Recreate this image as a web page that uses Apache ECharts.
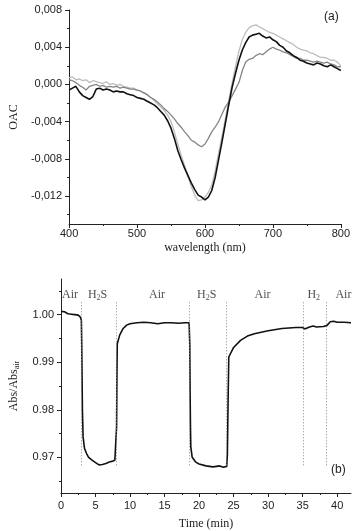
<!DOCTYPE html>
<html>
<head>
<meta charset="utf-8">
<script src="https://cdn.jsdelivr.net/npm/echarts@6/dist/echarts.min.js"></script>
<style>
  html, body { margin: 0; padding: 0; background: #fff; }
  #chart { width: 353px; height: 531px; }
</style>
</head>
<body>
<div id="chart"></div>
<script>
// panel (a): optical absorbance change spectra
const wavelengths = [
  400, 405, 410, 415, 420, 425, 430, 435, 440, 445, 450, 455, 460, 465, 470, 475, 480, 485, 490, 495,
  500, 505, 510, 515, 520, 525, 530, 535, 540, 545, 550, 555, 560, 565, 570, 575, 580, 585, 590, 595,
  600, 605, 610, 615, 620, 625, 630, 635, 640, 645, 650, 655, 660, 665, 670, 675, 680, 685, 690, 695,
  700, 705, 710, 715, 720, 725, 730, 735, 740, 745, 750, 755, 760, 765, 770, 775, 780, 785, 790, 795, 800
];
const oacBlack = [
  -0.0006, -0.0004, -0.0002, -0.0008, -0.0012, -0.0014, -0.0016, -0.0013, -0.0005, -0.0004,
  -0.0006, -0.0005, -0.0006, -0.0008, -0.0007, -0.0008, -0.0008, -0.0010, -0.0011, -0.0012,
  -0.0014, -0.0015, -0.0016, -0.0018, -0.0020, -0.0022, -0.0025, -0.0029, -0.0033, -0.0039,
  -0.0047, -0.0058, -0.0071, -0.0081, -0.0090, -0.0098, -0.0106, -0.0113, -0.0119, -0.0121,
  -0.0124, -0.0121, -0.0114, -0.0100, -0.0081, -0.0062, -0.0042, -0.0022, -0.0003, 0.0012,
  0.0026, 0.0037, 0.0045, 0.0051, 0.0053, 0.0054, 0.0055, 0.0052, 0.0050, 0.0051,
  0.0048, 0.0046, 0.0042, 0.0040, 0.0036, 0.0034, 0.0031, 0.0029, 0.0026, 0.0025,
  0.0023, 0.0022, 0.0021, 0.0023, 0.0022, 0.0020, 0.0019, 0.0021, 0.0019, 0.0017, 0.0015
];
const oacLight = [
  0.0007, 0.0008, 0.0005, 0.0006, 0.0004, 0.0005, 0.0002, 0.0004, 0.0003, 0.0002,
  0.0001, 0.0003, 0.0000, 0.0001, -0.0001, 0.0000, -0.0002, -0.0003, -0.0004, -0.0004,
  -0.0006, -0.0007, -0.0009, -0.0011, -0.0014, -0.0017, -0.0021, -0.0024, -0.0028, -0.0033,
  -0.0040, -0.0051, -0.0064, -0.0076, -0.0087, -0.0099, -0.0110, -0.0119, -0.0125, -0.0124,
  -0.0121, -0.0116, -0.0108, -0.0093, -0.0074, -0.0056, -0.0037, -0.0017, 0.0002, 0.0019,
  0.0036, 0.0048, 0.0056, 0.0061, 0.0063, 0.0064, 0.0062, 0.0060, 0.0058, 0.0056,
  0.0055, 0.0053, 0.0051, 0.0049, 0.0047, 0.0045, 0.0043, 0.0040, 0.0038, 0.0037,
  0.0036, 0.0034, 0.0033, 0.0031, 0.0029, 0.0029, 0.0028, 0.0026, 0.0026, 0.0024, 0.0020
];
const oacGray = [
  0.0005, 0.0004, 0.0002, -0.0001, -0.0003, -0.0006, -0.0002, -0.0001, 0.0000, -0.0002,
  -0.0001, -0.0003, -0.0002, -0.0003, -0.0002, -0.0004, -0.0003, -0.0004, -0.0005, -0.0005,
  -0.0006, -0.0007, -0.0009, -0.0011, -0.0014, -0.0016, -0.0019, -0.0022, -0.0026, -0.0029,
  -0.0033, -0.0037, -0.0042, -0.0046, -0.0051, -0.0055, -0.0060, -0.0062, -0.0065, -0.0067,
  -0.0064, -0.0058, -0.0051, -0.0046, -0.0040, -0.0032, -0.0024, -0.0019, -0.0012, -0.0005,
  0.0002, 0.0015, 0.0024, 0.0027, 0.0028, 0.0031, 0.0033, 0.0032, 0.0035, 0.0038,
  0.0040, 0.0038, 0.0037, 0.0035, 0.0034, 0.0032, 0.0030, 0.0028, 0.0028, 0.0026,
  0.0026, 0.0025, 0.0024, 0.0025, 0.0024, 0.0023, 0.0024, 0.0022, 0.0021, 0.0019, 0.0019
];
const oacTicks = [-0.012, -0.008, -0.004, 0, 0.004, 0.008];
const oacMinorTicks = [-0.014, -0.010, -0.006, -0.002, 0.002, 0.006];
const wlTicks = [400, 500, 600, 700, 800];
const wlMinorTicks = [450, 550, 650, 750];

// panel (b): response to gas switching
const times = [
  0, 0.5, 1, 1.5, 2, 2.5, 2.8, 2.95, 3.0, 3.05, 3.1, 3.2, 3.4, 3.7, 4, 4.5, 5, 5.5, 6, 6.5, 7, 7.5, 7.8, 8.0,
  8.05, 8.1, 8.15, 8.2, 8.5, 9, 9.5, 10, 11, 12, 13, 14, 15, 16, 17, 18, 18.55, 18.65, 18.7, 18.75, 18.8,
  19.0, 19.5, 20, 21, 22, 23, 23.5, 24, 24.1, 24.2, 24.3, 24.5, 25, 26, 27, 28, 30, 32, 34, 35, 35.3,
  36, 36.5, 37, 38, 38.5, 39, 39.5, 40, 41, 42
];
const absRatio = [
  1.0007, 1.0006, 1.0002, 1.0001, 1.0000, 0.9999, 0.9995, 0.9988, 0.9940, 0.9870, 0.9800, 0.9743,
  0.9719, 0.9708, 0.9700, 0.9694, 0.9689, 0.9684, 0.9685, 0.9687, 0.9690, 0.9692, 0.9694, 0.9698,
  0.9764, 0.9870, 0.9939, 0.9943, 0.9957, 0.9971, 0.9978, 0.9981, 0.9983, 0.9984, 0.9983, 0.9981,
  0.9983, 0.9983, 0.9982, 0.9983, 0.9983, 0.9939, 0.9834, 0.9764, 0.9722,
  0.9700, 0.9690, 0.9686, 0.9682, 0.9680, 0.9682, 0.9679, 0.9681, 0.9708, 0.9820, 0.9911,
  0.9915, 0.9931, 0.9946, 0.9955, 0.9960, 0.9966, 0.9971, 0.9973, 0.9973, 0.9970,
  0.9974, 0.9976, 0.9974, 0.9975, 0.9977, 0.9985, 0.9986, 0.9984, 0.9984, 0.9983
];
const switchTimes = [2.9, 7.95, 18.6, 23.9, 35.1, 38.35];
const gasNames = ['Air', 'H{s|2}S', 'Air', 'H{s|2}S', 'Air', 'H{s|2}', 'Air'];
const gasTimes = [1.3, 5.3, 13.9, 21.1, 29.2, 36.6, 40.9];
const absTicks = [0.97, 0.98, 0.99, 1.00];
const absMinorTicks = [0.965, 0.975, 0.985, 0.995, 1.005];
const timeTicks = [0, 5, 10, 15, 20, 25, 30, 35, 40];
const timeMinorTicks = [2.5, 7.5, 12.5, 17.5, 22.5, 27.5, 32.5, 37.5];

const sans = 'Liberation Sans';
const serif = 'Liberation Serif';
const ink = '#222';

function mainAxis(extra) {
  return Object.assign({
    type: 'value',
    axisLine: { show: true, onZero: false, lineStyle: { color: ink, width: 1 } },
    axisTick: { show: true, inside: false, length: 4, lineStyle: { color: ink } },
    axisLabel: { color: ink, fontFamily: sans, fontSize: 11 },
    splitLine: { show: false },
    nameTextStyle: { color: ink, fontFamily: serif, fontSize: 12 }
  }, extra);
}
function minorAxis(extra, ticks) {
  return Object.assign({
    type: 'value',
    axisLine: { show: false, onZero: false },
    axisTick: { show: true, inside: false, length: 2, customValues: ticks, lineStyle: { color: ink } },
    axisLabel: { show: false },
    splitLine: { show: false }
  }, extra);
}

const chart = echarts.init(document.getElementById('chart'), null, { renderer: 'canvas' });

chart.setOption({
  backgroundColor: '#fff',
  animation: false,
  grid: [
    { left: 59, top: 10, width: 289, height: 214 },
    { left: 58, top: 279, width: 293, height: 215 }
  ],
  xAxis: [
    mainAxis({
      gridIndex: 0, position: 'bottom', min: 400, max: 800,
      axisTick: { show: true, inside: false, length: 4, customValues: wlTicks, lineStyle: { color: ink } },
      axisLabel: { color: ink, fontFamily: sans, fontSize: 11, margin: 4, customValues: wlTicks },
      name: 'wavelength (nm)', nameLocation: 'middle', nameGap: 18
    }),
    minorAxis({ gridIndex: 0, position: 'bottom', min: 400, max: 800 }, wlMinorTicks),
    mainAxis({
      gridIndex: 1, position: 'bottom', min: 0, max: 42,
      axisTick: { show: true, inside: false, length: 4, customValues: timeTicks, lineStyle: { color: ink } },
      axisLabel: { color: ink, fontFamily: sans, fontSize: 11, margin: 7, customValues: timeTicks },
      name: 'Time (min)', nameLocation: 'middle', nameGap: 25
    }),
    minorAxis({ gridIndex: 1, position: 'bottom', min: 0, max: 42 }, timeMinorTicks)
  ],
  yAxis: [
    mainAxis({
      gridIndex: 0, position: 'left', min: -0.015, max: 0.008,
      axisTick: { show: true, inside: false, length: 4, customValues: oacTicks, lineStyle: { color: ink } },
      axisLabel: {
        color: ink, fontFamily: sans, fontSize: 11, margin: 7, customValues: oacTicks,
        formatter: v => v.toFixed(3).replace('.', ',')
      },
      name: 'OAC', nameLocation: 'middle', nameRotate: 90, nameGap: 49
    }),
    minorAxis({ gridIndex: 0, position: 'left', min: -0.015, max: 0.008 }, oacMinorTicks),
    mainAxis({
      gridIndex: 1, position: 'left', min: 0.9625, max: 1.0075,
      axisTick: { show: true, inside: false, length: 4, customValues: absTicks, lineStyle: { color: ink } },
      axisLabel: {
        color: ink, fontFamily: sans, fontSize: 11, margin: 7, customValues: absTicks,
        formatter: v => v.toFixed(2)
      },
      name: 'Abs/Abs{s|air}', nameLocation: 'middle', nameRotate: 90, nameGap: 40,
      nameTextStyle: {
        color: ink, fontFamily: serif, fontSize: 12,
        rich: { s: { fontFamily: serif, fontSize: 8, color: ink, padding: [6, 0, 0, 0] } }
      }
    }),
    minorAxis({ gridIndex: 1, position: 'left', min: 0.9625, max: 1.0075 }, absMinorTicks)
  ],
  series: [
    {
      type: 'line', xAxisIndex: 0, yAxisIndex: 0, showSymbol: false, silent: true,
      data: wavelengths.map((w, i) => [w, oacLight[i]]),
      lineStyle: { color: '#bdbdbd', width: 1.3 }
    },
    {
      type: 'line', xAxisIndex: 0, yAxisIndex: 0, showSymbol: false, silent: true,
      data: wavelengths.map((w, i) => [w, oacGray[i]]),
      lineStyle: { color: '#858585', width: 1.3 }
    },
    {
      type: 'line', xAxisIndex: 0, yAxisIndex: 0, showSymbol: false, silent: true,
      data: wavelengths.map((w, i) => [w, oacBlack[i]]),
      lineStyle: { color: '#111', width: 1.6 }
    },
    {
      type: 'line', xAxisIndex: 2, yAxisIndex: 2, showSymbol: false, silent: true,
      data: times.map((t, i) => [t, absRatio[i]]),
      lineStyle: { color: '#111', width: 1.6 },
      markLine: {
        silent: true, symbol: 'none', label: { show: false },
        lineStyle: { color: '#888', width: 1, type: [1, 2] },
        data: switchTimes.map(t => [{ coord: [t, 1.0026] }, { coord: [t, 0.968] }])
      }
    },
    {
      type: 'scatter', xAxisIndex: 2, yAxisIndex: 2, symbolSize: 0, silent: true,
      data: gasNames.map((n, i) => ({ name: n, value: [gasTimes[i], 1.0042] })),
      label: {
        show: true, position: 'inside', formatter: p => p.name,
        color: ink, fontFamily: serif, fontSize: 12,
        rich: { s: { fontFamily: serif, fontSize: 8, color: ink, padding: [6, 0, 0, 0] } }
      }
    }
  ],
  graphic: [
    { type: 'text', left: 324, top: 11, style: { text: '(a)', font: '12px Liberation Sans', fill: ink } },
    { type: 'text', left: 331, top: 464, style: { text: '(b)', font: '12px Liberation Sans', fill: ink } }
  ]
});
</script>
</body>
</html>
